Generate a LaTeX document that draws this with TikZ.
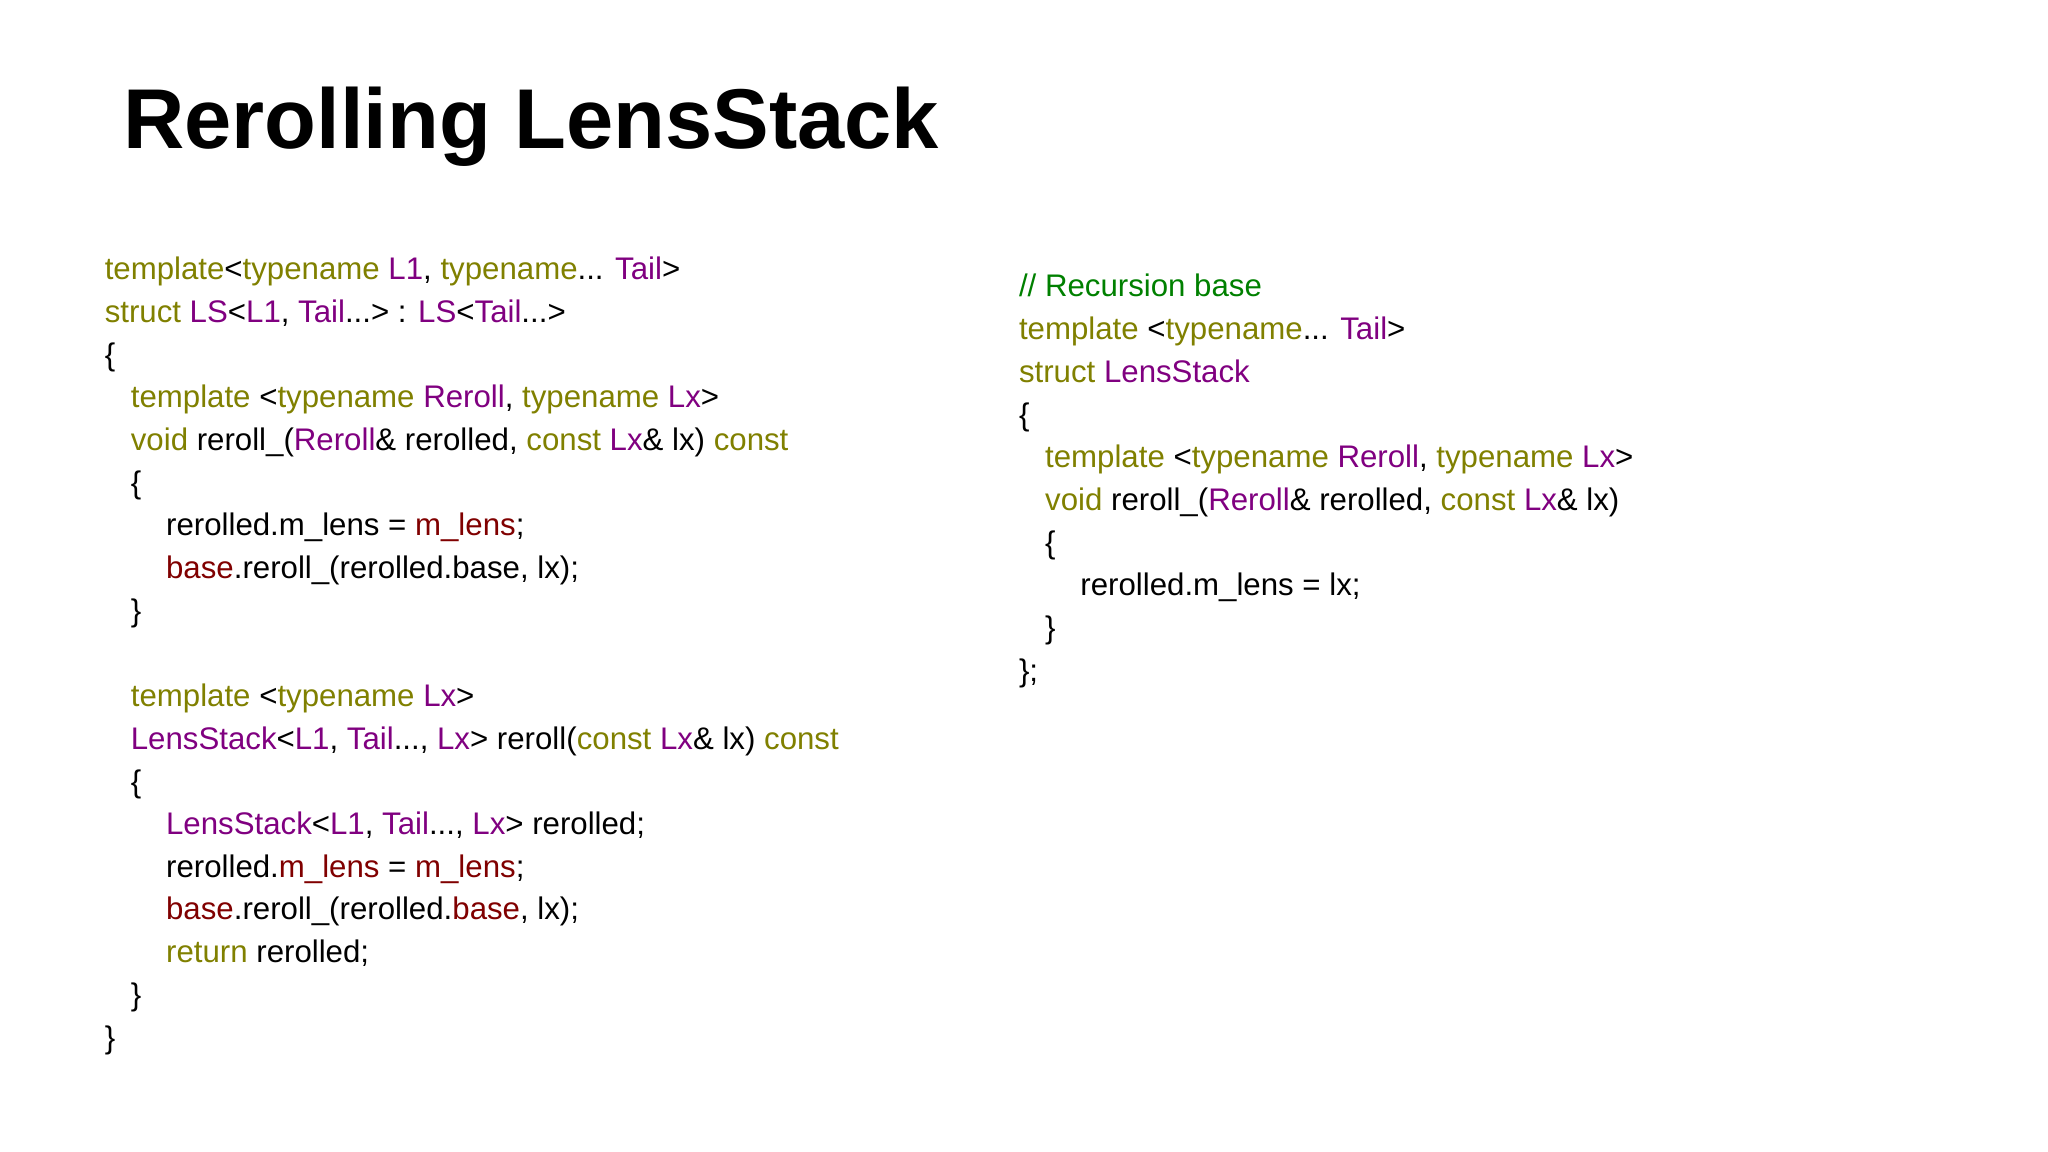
\documentclass[tikz,border=0pt]{standalone}
\usepackage{fontspec}
\setmainfont{Liberation Sans}
\definecolor{kwc}{RGB}{128,128,0}
\definecolor{tyc}{RGB}{128,0,128}
\definecolor{mbc}{RGB}{128,0,0}
\definecolor{cmc}{RGB}{0,128,0}
\newcommand{\kwx}[1]{\textcolor{kwc}{#1}}
\newcommand{\tyx}[1]{\textcolor{tyc}{#1}}
\newcommand{\mbx}[1]{\textcolor{mbc}{#1}}
\newcommand{\cmx}[1]{\textcolor{cmc}{#1}}
\begin{document}
\begin{tikzpicture}[x=1pt,y=-1pt,
  code/.style={anchor=base west,inner sep=0pt,font=\fontsize{23.9}{28}\selectfont}]
\useasboundingbox (0,0) rectangle (1568,882);
\node[anchor=base west,inner sep=0pt,font=\fontsize{65}{76}\selectfont\bfseries] (title) at (94,114) {Rerolling LensStack};
% left column
\node[code] (a1) at (80,214) {\kwx{template}<\kwx{typename} \tyx{L1}, \kwx{typename}... \tyx{Tail}>};
\node[code] (a2) at (80,247) {\kwx{struct} \tyx{LS}<\tyx{L1}, \tyx{Tail}...> : \tyx{LS}<\tyx{Tail}...>};
\node[code] (a3) at (80,280) {\{};
\node[code] (a4) at (100,312) {\kwx{template} <\kwx{typename} \tyx{Reroll}, \kwx{typename} \tyx{Lx}>};
\node[code] (a5) at (100,345) {\kwx{void} reroll\_(\tyx{Reroll}\& rerolled, \kwx{const} \tyx{Lx}\& lx) \kwx{const}};
\node[code] (a6) at (100,378) {\{};
\node[code] (a7) at (127,410) {rerolled.m\_lens = \mbx{m\_lens};};
\node[code] (a8) at (127,443) {\mbx{base}.reroll\_(rerolled.base, lx);};
\node[code] (a9) at (100,476) {\}};
\node[code] (a10) at (100,541) {\kwx{template} <\kwx{typename} \tyx{Lx}>};
\node[code] (a11) at (100,574) {\tyx{LensStack}<\tyx{L1}, \tyx{Tail}..., \tyx{Lx}> reroll(\kwx{const} \tyx{Lx}\& lx) \kwx{const}};
\node[code] (a12) at (100,607) {\{};
\node[code] (a13) at (127,639) {\tyx{LensStack}<\tyx{L1}, \tyx{Tail}..., \tyx{Lx}> rerolled;};
\node[code] (a14) at (127,672) {rerolled.\mbx{m\_lens} = \mbx{m\_lens};};
\node[code] (a15) at (127,704) {\mbx{base}.reroll\_(rerolled.\mbx{base}, lx);};
\node[code] (a16) at (127,737) {\kwx{return} rerolled;};
\node[code] (a17) at (100,770) {\}};
\node[code] (a18) at (80,803) {\}};
% right column
\node[code] (b1) at (780,227) {\cmx{// Recursion base}};
\node[code] (b2) at (780,260) {\kwx{template} <\kwx{typename}... \tyx{Tail}>};
\node[code] (b3) at (780,293) {\kwx{struct} \tyx{LensStack}};
\node[code] (b4) at (780,326) {\{};
\node[code] (b5) at (800,358) {\kwx{template} <\kwx{typename} \tyx{Reroll}, \kwx{typename} \tyx{Lx}>};
\node[code] (b6) at (800,391) {\kwx{void} reroll\_(\tyx{Reroll}\& rerolled, \kwx{const} \tyx{Lx}\& lx)};
\node[code] (b7) at (800,424) {\{};
\node[code] (b8) at (827,456) {rerolled.m\_lens = lx;};
\node[code] (b9) at (800,489) {\}};
\node[code] (b10) at (780,522) {\};};
\end{tikzpicture}
\end{document}
